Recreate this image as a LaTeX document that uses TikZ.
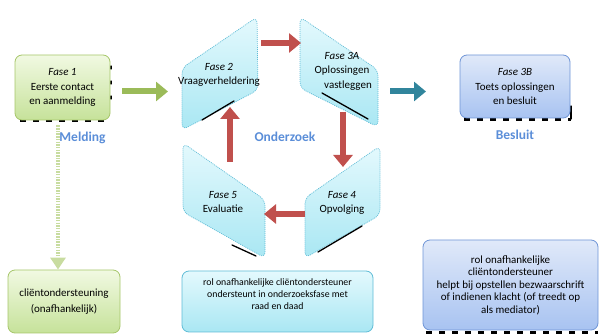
\documentclass[tikz,border=0pt]{standalone}
\usepackage{fontspec}
\setmainfont{Carlito}
\usepackage{xcolor}
\usetikzlibrary{arrows.meta, positioning, calc}

\definecolor{groenboven}{HTML}{F1F9E2}
\definecolor{groenonder}{HTML}{C6E29A}
\definecolor{randgroen}{HTML}{A6C66A}
\definecolor{blauwboven}{HTML}{E0E9F9}
\definecolor{blauwonder}{HTML}{A8C3F1}
\definecolor{randblauw}{HTML}{6F95D6}
\definecolor{cyaanboven}{HTML}{E4F9FD}
\definecolor{cyaanonder}{HTML}{A9E7F3}
\definecolor{randcyaan}{HTML}{5FBCD6}
\definecolor{kopblauw}{HTML}{5B8ED8}
\definecolor{pijlrood}{HTML}{C0504D}
\definecolor{pijlgroen}{HTML}{9BBB59}
\definecolor{pijlteal}{HTML}{31859C}
\definecolor{lichtgroen}{HTML}{C8DCA0}

\tikzset{
  vak/.style={draw, rounded corners=7pt, line width=0.8pt, align=center, font=\fontsize{11}{14.5}\selectfont},
  groenvak/.style={vak, draw=randgroen, top color=groenboven, bottom color=groenonder},
  blauwvak/.style={vak, draw=randblauw, top color=blauwboven, bottom color=blauwonder},
  cyaanvak/.style={vak, draw=randcyaan, top color=cyaanboven, bottom color=cyaanonder},
  kleintekst/.style={align=center, font=\fontsize{9.8}{11.8}\selectfont},
  blok/.style={draw=randcyaan, dash pattern=on 1pt off 1pt, line width=0.7pt, rounded corners=6pt, top color=cyaanboven, bottom color=cyaanonder},
  fasetekst/.style={align=center, font=\fontsize{11}{14.5}\selectfont},
  kop/.style={font=\fontsize{13.5}{15}\selectfont\bfseries, text=kopblauw},
  pijl/.style={line width=6pt, -{Triangle[width=19pt,length=12pt]}},
  schaduw/.style={draw=black, line width=3pt, dash pattern=on 6pt off 7pt},
  randschaduw/.style={draw=black, line width=1.3pt, line cap=round}
}

\begin{document}
\begin{tikzpicture}[x=1pt, y=-1pt]
  \useasboundingbox (0,0) rectangle (600,336);

  % Melding
  \draw[schaduw] (20,121) -- (111,121);
  \draw[randschaduw, dash pattern=on 3pt off 12pt] (111,66) -- (111,100);
  \node[groenvak, minimum width=95, minimum height=65] (f1) at (62.5,87.5)
    {\textit{Fase 1}\\Eerste contact\\en aanmelding};
  \node[kop, below=8pt of f1, xshift=20pt] (melding) {Melding};

  % onderzoek: vier blokken
  \path[blok] (182,68) -- (257,17) -- (258,90) -- (182,130) -- cycle;
  \path[blok] (300,17) -- (378,70) -- (378,127) -- (300,88) -- cycle;
  \path[blok] (305,198) -- (380,146) -- (380,215) -- (305,258) -- cycle;
  \path[blok] (183,143) -- (265,200) -- (265,258) -- (183,212) -- cycle;

  % schaduwranden
  \draw[randschaduw] (202,120) -- (234,101);
  \draw[randschaduw] (322,93) -- (368,119);
  \draw[randschaduw] (318,252) -- (362,226);
  \draw[randschaduw] (232,245) -- (256,256);

  \node[fasetekst] (f2) at (219,75) {\textit{Fase 2}\\Vraagverheldering};
  \node[fasetekst] (f3a) at (342,71) {\textit{Fase 3A}\\Oplossingen\\\hspace*{12pt}vastleggen};
  \node[fasetekst] (f4) at (342,203) {\textit{Fase 4}\\Opvolging};
  \node[fasetekst] (f5) at (223,202) {\textit{Fase 5}\\Evaluatie};
  \node[kop] (onderzoek) at (285,137) {Onderzoek};

  % pijlen in de cirkel
  \coordinate (p2uit) at (261,43);
  \coordinate (p3ain) at (301,43);
  \coordinate (p3auit) at (343,112);
  \coordinate (p4in) at (343,167);
  \coordinate (p4uit) at (305,214);
  \coordinate (p5in) at (264,214);
  \coordinate (p5uit) at (230,162);
  \coordinate (p2in) at (230,107);
  \draw[pijl, pijlrood] (p2uit) -- (p3ain);
  \draw[pijl, pijlrood] (p3auit) -- (p4in);
  \draw[pijl, pijlrood] (p4uit) -- (p5in);
  \draw[pijl, pijlrood] (p5uit) -- (p2in);

  % Besluit
  \draw[schaduw] (464,120) -- (571,120);
  \draw[randschaduw] (571,106) -- (571,119);
  \node[blauwvak, minimum width=110, minimum height=63] (f3b) at (515,86.5)
    {\textit{Fase 3B}\\Toets oplossingen\\en besluit};
  \node[kop, below=8pt of f3b] (besluit) {Besluit};

  % pijlen tussen de fasen
  \coordinate (g1) at ($(f1.east)+(12,4)$);
  \coordinate (g2) at (168,91.5);
  \draw[pijl, pijlgroen] (g1) -- (g2);
  \coordinate (t1) at (390,91.5);
  \coordinate (t2) at (426,91.5);
  \draw[pijl, pijlteal] (t1) -- (t2);

  % onderste vakken
  \node[groenvak, kleintekst, font=\fontsize{11}{16}\selectfont, minimum width=112, minimum height=63] (steun) at (64,301.5)
    {cli\"entondersteuning\\(onafhankelijk)};
  \coordinate (d1) at ($(f1.south)+(-4.5,5)$);
  \draw[lichtgroen, line width=4pt, dash pattern=on 1.5pt off 1.2pt,
        -{Triangle[width=15pt,length=12pt]}] (d1) -- (steun.north -| d1);

  \node[cyaanvak, minimum width=191, minimum height=61] (steunonderzoek) at (277.5,301.5) {};
  \node[kleintekst] (steuntekst) at (277.5,294)
    {rol onafhankelijke cli\"entondersteuner\\ondersteunt in onderzoeksfase met\\raad en daad};

  \draw[schaduw] (426,333) -- (598,333);
  \node[blauwvak, kleintekst, font=\fontsize{11}{12.5}\selectfont, minimum width=175, minimum height=90] (steunbesluit) at (510.5,285)
    {rol onafhankelijke\\cli\"entondersteuner\\helpt bij opstellen bezwaarschrift\\of indienen klacht (of treedt op\\als mediator)};
\end{tikzpicture}
\end{document}
